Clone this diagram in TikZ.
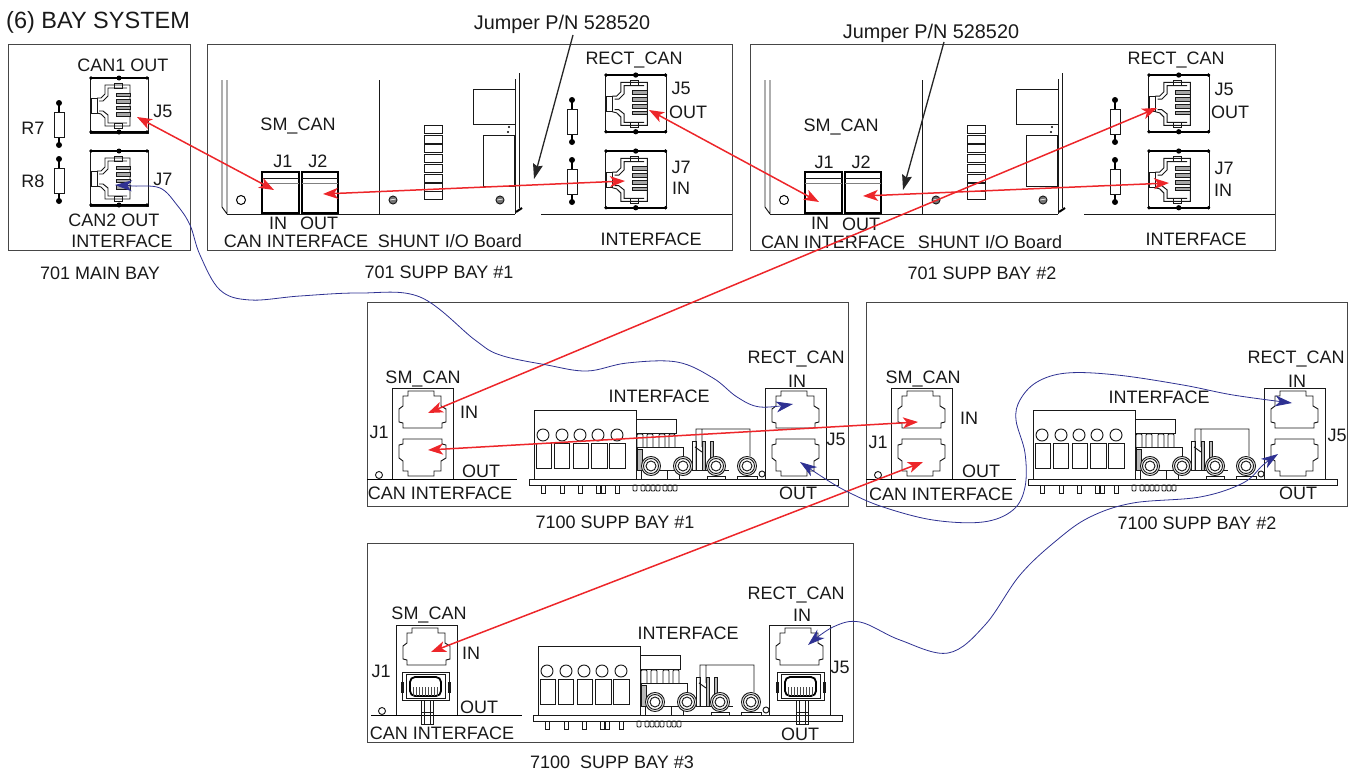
\documentclass[tikz,border=0pt]{standalone}
\usepackage{fontspec}
\setmainfont{Liberation Sans}
\usetikzlibrary{arrows.meta,scopes}
\definecolor{redwire}{RGB}{237,38,42}
\definecolor{bluewire}{RGB}{46,49,146}
\definecolor{boxgray}{RGB}{70,70,70}
\tikzset{
  ln/.style={line width=.95bp,draw=black!90},
  % rear view of a jack, 58 x 56
  pics/rjback/.style={code={
    \draw[ln,fill=white] (0,0) rectangle (58,56);
    \draw[line width=1.5bp] (0,1) -- (58,1) (0,55) -- (58,55);
    \fill (29,1) circle (2.5) (29,55) circle (2.5);
    \fill (1,1) circle (1.8) (57,1) circle (1.8) (1,55) circle (1.8) (57,55) circle (1.8);
    \draw[ln] (1,21) rectangle (7,36);
    \draw[ln] (7,21) -- (11,21) -- (15,17) -- (15,8) -- (40,8) -- (40,49) -- (15,49) -- (15,41) -- (11,37) -- (7,36);
    \draw[ln] (9,24) -- (13,24) -- (18,19) -- (18,11) -- (37,11) (37,46) -- (18,46) -- (18,38) -- (13,34) -- (9,34);
    \draw[ln] (24,6) rectangle (32,11) (24,46) rectangle (32,51);
    \foreach \y in {16,22.5,29,35.5} \draw[ln,fill=gray!70] (26,\y) rectangle (40,\y+3.5);
  }},
  % front view of an empty port, 47 x 38
  pics/rjfront/.style={code={
    \draw[ln] (9,0) -- (35,0) -- (35,5) -- (42,5) -- (42,15) -- (47,18) -- (47,31) -- (43,32) -- (43,37)
      -- (38,37) -- (9,37) -- (4,37) -- (4,32) -- (0,31) -- (0,18) -- (4,15) -- (4,5) -- (9,5) -- cycle;
  }},
  % port with a plug in it
  pics/rjplug/.style={code={
    \draw[ln] (0,0) rectangle (47,28);
    \draw[ln] (-1,10) rectangle (1,20) (46,10) rectangle (48,20);
    \draw[ln] (4,2) rectangle (43,26);
    \draw[line width=1.8bp,rounded corners=5bp] (8,5) rectangle (39,24);
    \foreach \x in {11,14,...,36} \draw[ln,draw=black!70] (\x,15) -- (\x,24);
    \draw[ln] (19,28) rectangle (31,52) (22,28) -- (22,52) (28,28) -- (28,52) (19,40) -- (31,40);
  }},
  pics/resist/.style={code={
    \draw[line width=1.4bp] (0,3) -- (0,45);
    \fill (0,3) circle (3) (0,45) circle (3);
    \draw[ln,fill=white] (-5,12) rectangle (5,37);
  }},
  pics/ring/.style={code={
    \draw[ln,fill=white] (0,0) circle (9.5) circle (7.5) circle (5);
  }},
  % terminal block and parts on the 7100 boards, origin at the board's top left
  pics/board/.style={code={
    \draw[ln,fill=white] (0,0) rectangle (309,6);
    \foreach \x in {14,33,51,69,74,88} \draw[ln] (\x-2,6) rectangle (\x+2,14);
    \foreach \x in {106,114,119,124,129,136,141,146} \draw[ln,rounded corners=1bp] (\x-2,6) rectangle (\x+2,12);
    \draw[ln] (5,-69) rectangle (107,0);
    \foreach \x in {14,33,51,69,88} \draw[ln] (\x,-44) circle (6);
    \foreach \x/\w in {7/15,25/15,44/15,62/16,80/16} \draw[ln] (\x,-36) rectangle ++(\w,25);
    \draw[ln] (107,-60) rectangle (147,-46);
    \foreach \x in {111,121,133,143} \draw[ln,rounded corners=1bp] (\x-3,-32) -- (\x-3,-45) -- (\x+3,-45) -- (\x+3,-32);
    \draw[ln,fill=white] (108,-32) rectangle (154,-9);
    \draw[ln,fill=gray!55] (108,-30) rectangle (113,-9);
    \draw[ln] (138,-9) -- (138,0) (112,-9) -- (112,0) (150,-9) -- (150,0);
    \draw[ln] (163,-38) rectangle (167,-9);
    \draw[ln] (167,-9) -- (167,-50) -- (221,-50) -- (221,-23) (173,-50) -- (173,-32) (166,-32) -- (173,-27);
    \draw[ln,fill=gray!55] (173,-38) rectangle (176,-9) (181,-38) rectangle (184,-9);
    \draw[ln] (167,-9) -- (200,-9);
    \foreach \x in {122,154,187,218} \pic at (\x,-13) {ring};
    \draw[ln] (178,-3) rectangle (196,0) (208,-3) rectangle (228,0);
    \draw[ln] (233,-5) circle (3);
  }},
  % 701 supplementary bay, drawn at the place of bay #1
  pics/suppbay/.style={code={
    \draw[line width=1bp,draw=boxgray] (207,45) rectangle (732,250);
    \draw[ln] (222,80) -- (222,207) -- (227,214) (227,80) -- (227,214);
    \draw[ln] (227,214.5) -- (515,214.5) (541,214.5) -- (732,214.5);
    \draw[ln] (379,80) -- (379,214) (515,79) -- (515,214) (519,73) -- (519,208);
    \draw[line width=2bp] (516,212) -- (522,208);
    \draw[ln] (473,89) rectangle (515,124) (483,135) rectangle (514,186);
    \fill (509,127) circle (1.2) (508,132) circle (1.2);
    \foreach \y in {125,135,144,154,164,174,183,191} \draw[ln] (424,\y) rectangle (442,\y+8);
    \foreach \x in {393,500} {
      \draw[ln,fill=black!55] (\x,200) circle (4);
      \draw[white,line width=.6bp] (\x-3,200) -- (\x+3,199);
    }
    \draw[line width=1bp] (241,200) circle (4.5);
    \draw[line width=1.2bp] (262,172) rectangle (299,213) (302,172) rectangle (338,213);
    \draw[ln] (262,178) -- (299,178) (302,178) -- (338,178);
    \draw[ln,draw=gray] (262,183) -- (299,183) (302,183) -- (338,183);
    \pic at (605,74) [xscale=1.06,yscale=1.05] {rjback};
    \pic at (605,150) [xscale=1.06,yscale=1.05] {rjback};
    \pic at (572,97) {resist};
    \pic at (572,157) {resist};
  }},
}
\begin{document}
\begin{tikzpicture}[x=1bp,y=-1bp,
    lbl/.style={inner sep=0pt,text height=13bp,text depth=0pt,font=\fontsize{18bp}{20bp}\selectfont,text=black!90},
    jumplbl/.style={lbl,font=\fontsize{19.8bp}{22bp}\selectfont,text height=14bp},
    baybox/.style={line width=1bp,draw=boxgray},
    jackbox/.style={line width=.95bp,draw=black!90},
    redline/.style={draw=redwire,fill=redwire,line width=1.5bp,>={Stealth[length=15bp,width=11bp,inset=4bp]}},
    blueline/.style={draw=bluewire,line width=.8bp,>={Stealth[length=17bp,width=11bp,inset=5bp,fill=bluewire]}},
    jumper/.style={draw=black!85,line width=1.3bp,->,>={Stealth[length=15bp,width=10bp,inset=2bp]}}]
  \useasboundingbox (0,0) rectangle (1352,775);

  % 701 bays
  \draw[baybox] (8,45) rectangle (190,250);
  \pic at (90,77) {rjback};
  \pic at (90,150) {rjback};
  \pic at (59,100) {resist};
  \pic at (59,156) {resist};
  \pic at (0,0) {suppbay};
  \pic at (543,0) {suppbay};

  % 7100 bays
  \draw[baybox] (367,302) rectangle (848,506);
  \draw[baybox] (866,302) rectangle (1347,506);
  \draw[baybox] (367,543) rectangle (853,742);
  \foreach \dx in {0,499} {
    \draw[line width=1.5bp] (367+\dx,479.5) -- (517+\dx,479.5);
    \draw[ln] (379+\dx,475) circle (3.5);
    \draw[jackbox] (392+\dx,479) -- (392+\dx,388) -- (453+\dx,388) -- (453+\dx,479);
    \draw[jackbox] (765+\dx,479) -- (765+\dx,388) -- (826+\dx,388) -- (826+\dx,479);
    \pic at (399+\dx,391) {rjfront};
    \pic at (772+\dx,391) {rjfront};
    \pic at (399+\dx,476) [yscale=-1] {rjfront};
    \pic at (772+\dx,476) [yscale=-1] {rjfront};
    \pic at (529+\dx,479) {board};
  }
  \draw[line width=1.5bp] (371,715.5) -- (522,715.5);
  \draw[ln] (382,711) circle (3.5);
  \draw[jackbox] (396,715) -- (396,625) -- (457,625) -- (457,715);
  \draw[jackbox] (769,715) -- (769,625) -- (830,625) -- (830,715);
  \pic at (403,628) {rjfront};
  \pic at (776,628) {rjfront};
  \pic at (533,715) {board};
  \pic at (402,672) {rjplug};
  \pic at (777,672) {rjplug};

  % labels
  \node[lbl,anchor=west,font=\fontsize{23.5bp}{26bp}\selectfont,text height=17bp] (title) at (6,20) {(6) BAY SYSTEM};
  \node[jumplbl] (ajump) at (562,23) {Jumper P/N 528520};
  \node[jumplbl] (bjump) at (931,32) {Jumper P/N 528520};
  \foreach \x/\y/\n/\t in {123/65/mcan1/CAN1 OUT,163/111/mj5/J5,33/128/mr7/R7,33/181/mr8/R8,163/179/mj7/J7,114/220/mcan2/CAN2 OUT,122/241/mint/INTERFACE,100/273/mbay/701 MAIN BAY}
    \node[lbl] (\n) at (\x,\y) {\t};
  \foreach \x/\y/\n/\t in {298/124/asm/SM\_CAN,283/161/aj1/J1,318/161/aj2/J2,278/223/ain/IN,319/223/aout/OUT,296/241/acan/CAN INTERFACE,450/241/ashunt/{SHUNT I/O Board},651/239/aint/INTERFACE,634/58/arect/RECT\_CAN,681/88/aj5/J5,688/112/aj5o/OUT,681/167/aj7/J7,681/188/aj7i/IN,439/272/abay/701 SUPP BAY \#1}
    \node[lbl] (\n) at (\x,\y) {\t};
  \foreach \x/\y/\n/\t in {841/125/bsm/SM\_CAN,824/162/bj1/J1,861/162/bj2/J2,820/223/bin/IN,861/224/bout/OUT,833/242/bcan/CAN INTERFACE,990/242/bshunt/{SHUNT I/O Board},1196/239/bint/INTERFACE,1176/58/brect/RECT\_CAN,1224/89/bj5/J5,1230/112/bj5o/OUT,1224/168/bj7/J7,1223/190/bj7i/IN,982/273/bbay/701 SUPP BAY \#2}
    \node[lbl] (\n) at (\x,\y) {\t};
  \foreach \x/\y/\n/\t in {423/377/csm/SM\_CAN,379/432/cj1/J1,469/412/cin/IN,481/471/cout/OUT,440/493/ccan/CAN INTERFACE,659/396/cint/INTERFACE,796/357/crect/RECT\_CAN,797/381/crin/IN,836/439/cj5/J5,798/493/crout/OUT,615/522/cbay/7100 SUPP BAY \#1}
    \node[lbl] (\n) at (\x,\y) {\t};
  \foreach \x/\y/\n/\t in {923/377/dsm/SM\_CAN,878/442/dj1/J1,969/418/din/IN,981/471/dout/OUT,941/494/dcan/CAN INTERFACE,1159/397/dint/INTERFACE,1296/357/drect/RECT\_CAN,1297/381/drin/IN,1337/435/dj5/J5,1298/493/drout/OUT,1197/523/dbay/7100 SUPP BAY \#2}
    \node[lbl] (\n) at (\x,\y) {\t};
  \foreach \x/\y/\n/\t in {429/613/esm/SM\_CAN,381/671/ej1/J1,471/653/ein/IN,479/707/eout/OUT,442/733/ecan/CAN INTERFACE,688/633/eint/INTERFACE,796/593/erect/RECT\_CAN,802/615/erin/IN,840/667/ej5/J5,800/734/erout/OUT,612/762/ebay/7100\ \ SUPP BAY \#3}
    \node[lbl] (\n) at (\x,\y) {\t};

  % where the cables plug in
  \coordinate (mainJ5) at (137,117);
  \coordinate (mainJ7) at (115,185);
  \coordinate (a1) at (274,190);
  \coordinate (a2) at (323,194);
  \coordinate (a5) at (649,110);
  \coordinate (a7) at (625,181);
  \coordinate (b1) at (819,202);
  \coordinate (b2) at (863,196);
  \coordinate (b5) at (1157,108);
  \coordinate (b7) at (1169,183);
  \coordinate (c1) at (428,413);
  \coordinate (c1o) at (428,450);
  \coordinate (c5) at (793,404);
  \coordinate (c5o) at (800,462);
  \coordinate (d1) at (918,422);
  \coordinate (d1o) at (923,462);
  \coordinate (d5) at (1292,403);
  \coordinate (d5o) at (1278,454);
  \coordinate (e1) at (431,652);
  \coordinate (e5) at (808,645);
  \coordinate (jumpA) at (573,35);
  \coordinate (jumpAend) at (534,179);
  \coordinate (jumpB) at (944,42);
  \coordinate (jumpBend) at (903,190);

  \draw[jumper] (jumpA) -- (jumpAend);
  \draw[jumper] (jumpB) -- (jumpBend);

  {[redline,<->]
    \draw (mainJ5) -- (a1);
    \draw (a2) -- (a7);
    \draw (a5) -- (b1);
    \draw (b2) -- (b7);
    \draw (b5) -- (c1);
    \draw (c1o) -- (d1);
    \draw (d1o) -- (e1);
  }
  {[blueline,<->]
    \draw plot[smooth,tension=.6] coordinates {(mainJ7) (133,186) (160,188) (177,205) (190,225) (200,255) (220,290) (250,300) (300,296) (360,293) (420,297) (475,340) (500,355) (547,365) (587,371) (627,363) (677,362) (713,378) (737,397) (760,407) (c5)};
    \draw plot[smooth,tension=.6] coordinates {(c5o) (827,480) (850,493) (883,507) (933,520) (983,522) (1013,510) (1025,487) (1025,453) (1016,420) (1020,400) (1037,382) (1067,373) (1117,375) (1183,385) (1233,395) (d5)};
    \draw plot[smooth,tension=.6] coordinates {(d5o) (1263,465) (1243,483) (1200,497) (1133,503) (1090,517) (1057,540) (1020,575) (985,625) (948,653) (900,640) (860,622) (833,627) (e5)};
  }
\end{tikzpicture}
\end{document}
